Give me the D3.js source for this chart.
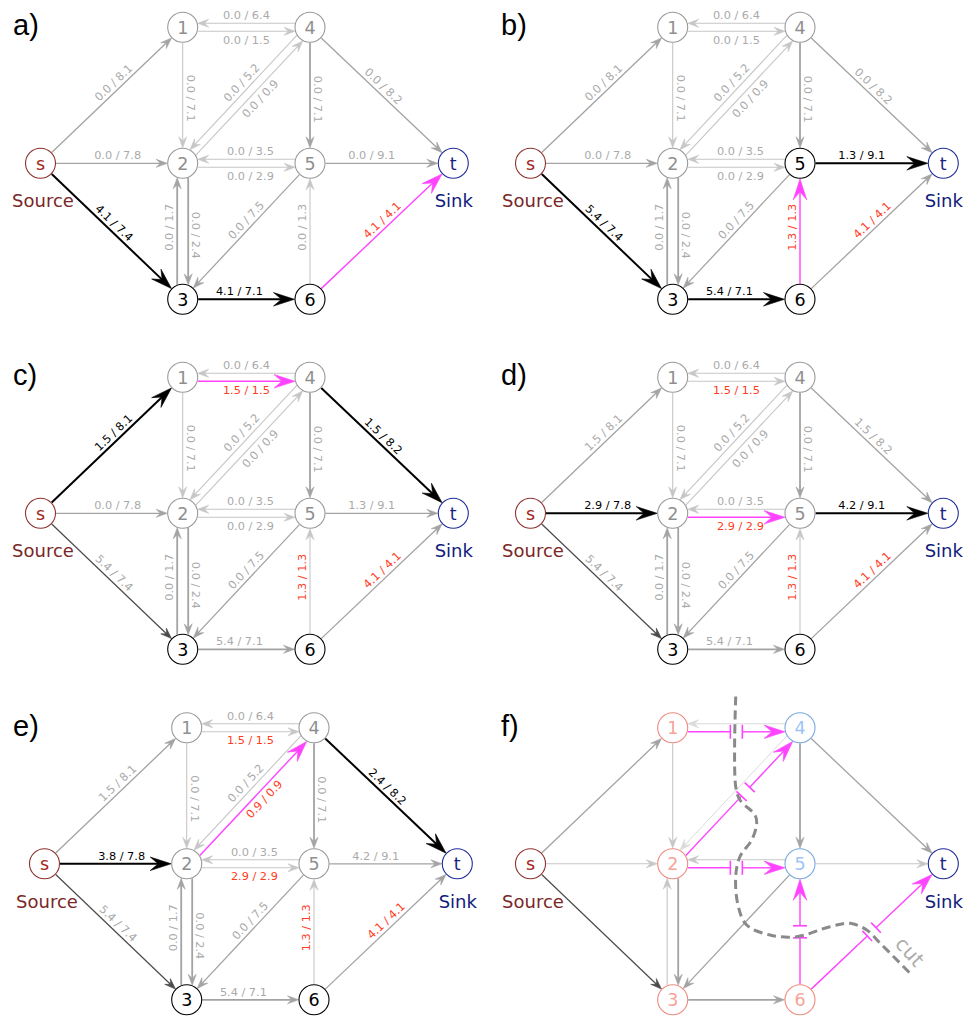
<!DOCTYPE html>
<html>
<head>
<meta charset="utf-8">
<title>Augmenting paths</title>
<style>
  body { margin: 0; background: #fff; }
  svg { display: block; }
</style>
</head>
<body>
<svg id="chart" width="969" height="1017"></svg>
<script src="https://d3js.org/d3.v7.min.js"></script>
<script>
// ---- data ----
const nodeIds = ["s", "1", "2", "3", "4", "5", "6", "t"];
const nodeCol = [0, 1, 1, 1, 2, 2, 2, 3];
const nodeRow = [1, 0, 1, 2, 0, 1, 2, 1];

const edgeFrom = ["s", "s", "s", "4", "1", "1", "4", "2", "4", "4", "5", "2", "5", "3", "2", "5", "6", "3", "6"];
const edgeTo   = ["1", "2", "3", "1", "4", "2", "2", "4", "5", "t", "2", "5", "t", "2", "3", "3", "5", "6", "t"];
const capacity = [8.1, 7.8, 7.4, 6.4, 1.5, 7.1, 5.2, 0.9, 7.1, 8.2, 3.5, 2.9, 9.1, 1.7, 2.4, 7.5, 1.3, 7.1, 4.1];

const panelTags = ["a)", "b)", "c)", "d)", "e)", "f)"];
const flowA = [0, 0, 4.1, 0, 0, 0, 0, 0, 0, 0, 0, 0, 0, 0, 0, 0, 0, 4.1, 4.1];
const flowB = [0, 0, 5.4, 0, 0, 0, 0, 0, 0, 0, 0, 0, 1.3, 0, 0, 0, 1.3, 5.4, 4.1];
const flowC = [1.5, 0, 5.4, 0, 1.5, 0, 0, 0, 0, 1.5, 0, 0, 1.3, 0, 0, 0, 1.3, 5.4, 4.1];
const flowD = [1.5, 2.9, 5.4, 0, 1.5, 0, 0, 0, 0, 1.5, 0, 2.9, 4.2, 0, 0, 0, 1.3, 5.4, 4.1];
const flowE = [1.5, 3.8, 5.4, 0, 1.5, 0, 0, 0.9, 0, 2.4, 0, 2.9, 4.2, 0, 0, 0, 1.3, 5.4, 4.1];
const pathA = ["s", "3", "6", "t"];
const pathB = ["s", "3", "6", "5", "t"];
const pathC = ["s", "1", "4", "t"];
const pathD = ["s", "2", "5", "t"];
const pathE = ["s", "2", "4", "t"];
const blackNodes = [["3", "6"], ["3", "5", "6"], ["3", "6"], ["3", "6"], ["3", "6"]];
const sourceSide = ["s", "1", "2", "3", "6"];   // min cut, panel f

const flows = [flowA, flowB, flowC, flowD, flowE];
const paths = [pathA, pathB, pathC, pathD, pathE];

// ---- layout ----
const x = d3.scaleLinear().domain([0, 1, 2, 3]).range([40.5, 182.7, 310, 453.3]);
const y = d3.scaleLinear().domain([0, 2]).range([27.3, 299.3]);
const panelOrigin = [[0, 0], [490, 0], [0, 350], [490, 350], [4, 700.5], [490, 700.5]];
const tagPos = [[13, 35], [501, 35], [13, 385], [501, 385], [13, 736], [501, 736]];
const R = 15.5;

// offset of the two edges in an antiparallel pair
const pairOffset = { "3-2": -5.5, "2-3": -5.5 };
// small shifts of labels along their edge (toward target if positive)
const labelShift = {
  "s-1": 10, "s-2": 6, "s-3": -4, "1-2": 3, "4-2": -6, "2-4": 7, "4-5": 4, "4-t": -5,
  "5-2": -4, "2-5": 4, "5-t": -10, "3-2": 4, "2-3": 4, "5-3": -8, "6-5": 4, "3-6": -7, "6-t": 8
};
const lightEdges = new Set(["4-1", "1-4", "1-2", "4-2", "2-4", "5-2", "2-5", "6-5"]);
const thickEdges = new Set(["4-5", "3-6", "2-3", "3-2"]);

const C = {
  mid: "#a3a3a3", light: "#c6c6c6", pale: "#dadada", dark: "#4a4a4a",
  label: "#aaaaaa", red: "#ff3b1d", magenta: "#ff44ff",
  nodeGrey: "#9a9a9a", nodeGreyText: "#8f8f8f",
  srcStroke: "#8e3330", srcText: "#a3261c", srcLabel: "#7a2727",
  snkStroke: "#1d2c9a", snkText: "#1b1f86", snkLabel: "#101c7c",
  salmon: "#f08a80", salmonText: "#f7a397", blue: "#78a6e0", blueText: "#9fc3f5",
  cut: "#8a8a8a"
};

const svg = d3.select("#chart");
const nodeIndex = new Map(nodeIds.map((id, i) => [id, i]));
const pos = id => { const i = nodeIndex.get(id); return [x(nodeCol[i]), y(nodeRow[i])]; };
const keys = edgeFrom.map((f, i) => f + "-" + edgeTo[i]);
const keySet = new Set(keys);

function geom(i) {
  const key = keys[i];
  const [x0, y0] = pos(edgeFrom[i]);
  const [x1, y1] = pos(edgeTo[i]);
  const len = Math.hypot(x1 - x0, y1 - y0);
  const d = [(x1 - x0) / len, (y1 - y0) / len];
  const n = [-d[1], d[0]];
  const paired = keySet.has(edgeTo[i] + "-" + edgeFrom[i]);
  const off = paired ? (pairOffset[key] !== undefined ? pairOffset[key] : 4) : 0;
  const r = Math.sqrt(R * R - off * off);
  const p0 = [x0 + d[0] * r + n[0] * off, y0 + d[1] * r + n[1] * off];
  const p1 = [x1 - d[0] * r + n[0] * off, y1 - d[1] * r + n[1] * off];
  return { key, d, n, off, paired, p0, p1, len };
}

function dart(L, W) {
  return `M0,0L${-L},${-W / 2}L${-0.62 * L},0L${-L},${W / 2}Z`;
}

function drawPanel(k) {
  const g = svg.append("g").attr("transform", `translate(${panelOrigin[k][0]},${panelOrigin[k][1]})`);
  const edgeG = g.append("g").attr("fill", "none");
  const labelG = g.append("g")
    .attr("font-family", "'DejaVu Sans', sans-serif")
    .attr("font-size", 11.3)
    .attr("text-anchor", "middle");

  const final = k === 5;
  const flow = final ? null : flows[k];
  const pathKeys = new Set();
  if (!final) {
    const p = paths[k];
    for (let j = 0; j < p.length - 1; j++) pathKeys.add(p[j] + "-" + p[j + 1]);
  }

  keys.forEach((key, i) => {
    const gm = geom(i);
    let color, width, big = false, cut = false;
    const sat = !final && Math.abs(flow[i] - capacity[i]) < 1e-9;
    const onPath = pathKeys.has(key);
    if (final) {
      const a = sourceSide.includes(edgeFrom[i]);
      const b = sourceSide.includes(edgeTo[i]);
      if (a && !b) { cut = true; }
    }
    if ((onPath && sat) || cut) { color = C.magenta; width = 1.4; big = true; }
    else if (onPath) { color = "#000"; width = 2; big = true; }
    else if (key === "s-3" && k > 0) { color = C.dark; width = 1.2; }
    else if (final && (key === "4-1" || key === "4-2")) { color = C.pale; width = 1; }
    else if (lightEdges.has(key) || (final && (key === "s-2" || key === "5-t" || key === "3-2"))) { color = C.light; width = 1.1; }
    else { color = C.mid; width = thickEdges.has(key) ? 1.8 : 1.3; }

    const L = big ? 21 : 11, W = big ? 13.5 : 8;
    const end = [gm.p1[0] - gm.d[0] * L * 0.6, gm.p1[1] - gm.d[1] * L * 0.6];
    const ang = Math.atan2(gm.d[1], gm.d[0]) * 180 / Math.PI;

    if (cut) {
      const f = key === "2-4" ? 0.55 : 0.5;
      const [cx0, cy0] = pos(edgeFrom[i]);
      const cx = cx0 + gm.d[0] * gm.len * f + gm.n[0] * gm.off;
      const cy = cy0 + gm.d[1] * gm.len * f + gm.n[1] * gm.off;
      const gap = 6, tick = 7;
      const a = [cx - gm.d[0] * gap, cy - gm.d[1] * gap];
      const b = [cx + gm.d[0] * gap, cy + gm.d[1] * gap];
      edgeG.append("path").attr("stroke", color).attr("stroke-width", width)
        .attr("d", d3.line()([gm.p0, a]));
      edgeG.append("path").attr("stroke", color).attr("stroke-width", width)
        .attr("d", d3.line()([b, end]));
      [a, b].forEach(p => {
        edgeG.append("path").attr("stroke", color).attr("stroke-width", 1.6)
          .attr("d", d3.line()([[p[0] - gm.n[0] * tick, p[1] - gm.n[1] * tick], [p[0] + gm.n[0] * tick, p[1] + gm.n[1] * tick]]));
      });
    } else {
      edgeG.append("path").attr("stroke", color).attr("stroke-width", width)
        .attr("d", d3.line()([gm.p0, end]));
    }
    edgeG.append("path").attr("fill", color).attr("stroke", color).attr("stroke-width", 0.6)
      .attr("stroke-linejoin", "miter")
      .attr("transform", `translate(${gm.p1[0]},${gm.p1[1]}) rotate(${ang})`)
      .attr("d", dart(L, W));

    if (final) return;
    // label
    let ta = ang;
    if (ta > 90.5) ta -= 180;
    if (ta < -90.5) ta += 180;
    const rad = ta * Math.PI / 180;
    let nx, ny, dist;
    if (gm.paired) {
      const s = Math.sign(gm.off);
      nx = gm.n[0] * s; ny = gm.n[1] * s; dist = Math.abs(gm.off) + 8.3;
    } else {
      nx = Math.sin(rad); ny = -Math.cos(rad); dist = 8;
    }
    const [sx, sy] = pos(edgeFrom[i]);
    const sh = labelShift[key] || 0;
    const mx = sx + gm.d[0] * (gm.len / 2 + sh) + nx * dist;
    const my = sy + gm.d[1] * (gm.len / 2 + sh) + ny * dist;
    const lc = sat ? C.red : (onPath ? "#000" : C.label);
    labelG.append("text")
      .attr("transform", `translate(${mx},${my}) rotate(${ta})`)
      .attr("dy", "0.36em")
      .attr("fill", lc)
      .text(`${flow[i].toFixed(1)} / ${capacity[i].toFixed(1)}`);
  });

  // nodes
  const nodeG = g.append("g")
    .attr("font-family", "'DejaVu Sans', sans-serif")
    .attr("text-anchor", "middle");
  nodeIds.forEach(id => {
    const [nx, ny] = pos(id);
    let stroke, fill;
    if (id === "s") { stroke = C.srcStroke; fill = C.srcText; }
    else if (id === "t") { stroke = C.snkStroke; fill = C.snkText; }
    else if (final) {
      const a = sourceSide.includes(id);
      stroke = a ? C.salmon : C.blue; fill = a ? C.salmonText : C.blueText;
    } else if (blackNodes[k].includes(id)) { stroke = "#000"; fill = "#000"; }
    else { stroke = C.nodeGrey; fill = C.nodeGreyText; }
    nodeG.append("circle").attr("cx", nx).attr("cy", ny).attr("r", R - 0.5)
      .attr("fill", "#fff").attr("stroke", stroke).attr("stroke-width", 1.1);
    nodeG.append("text").attr("x", nx).attr("y", ny).attr("dy", "0.36em")
      .attr("font-size", 17.5).attr("fill", fill).text(id);
  });
  const [sx, sy] = pos("s");
  const [tx, ty] = pos("t");
  nodeG.append("text").attr("x", sx + 2.5).attr("y", sy + 44).attr("font-size", 18)
    .attr("fill", C.srcLabel).text("Source");
  nodeG.append("text").attr("x", tx + 0.5).attr("y", ty + 44).attr("font-size", 18)
    .attr("fill", C.snkLabel).text("Sink");

  if (final) {
    const cutPts = [[245.7, -4], [245.7, 86], [250, 99.5], [265, 114.5], [266.7, 123],
      [261.7, 139.5], [250, 156], [245.7, 176], [248.3, 206], [256.7, 224.5], [280, 234.5],
      [306.7, 236.2], [340, 226.2], [360, 222.8], [376.7, 229.5], [390, 242.5], [421.7, 274.5]];
    g.append("path")
      .attr("fill", "none").attr("stroke", C.cut).attr("stroke-width", 3)
      .attr("stroke-dasharray", "9,5")
      .attr("d", d3.line().curve(d3.curveCatmullRom)(cutPts));
    g.append("text")
      .attr("transform", "translate(420,251) rotate(48)")
      .attr("text-anchor", "middle").attr("dy", "0.36em")
      .attr("font-family", "'DejaVu Sans', sans-serif").attr("font-size", 20)
      .attr("fill", "#acacac").text("cut");
  }

  svg.append("text")
    .attr("x", tagPos[k][0]).attr("y", tagPos[k][1])
    .attr("font-family", "'Liberation Sans', Arial, sans-serif")
    .attr("font-size", 29).attr("fill", "#000")
    .text(panelTags[k]);
}

for (let k = 0; k < 6; k++) drawPanel(k);
</script>
</body>
</html>
